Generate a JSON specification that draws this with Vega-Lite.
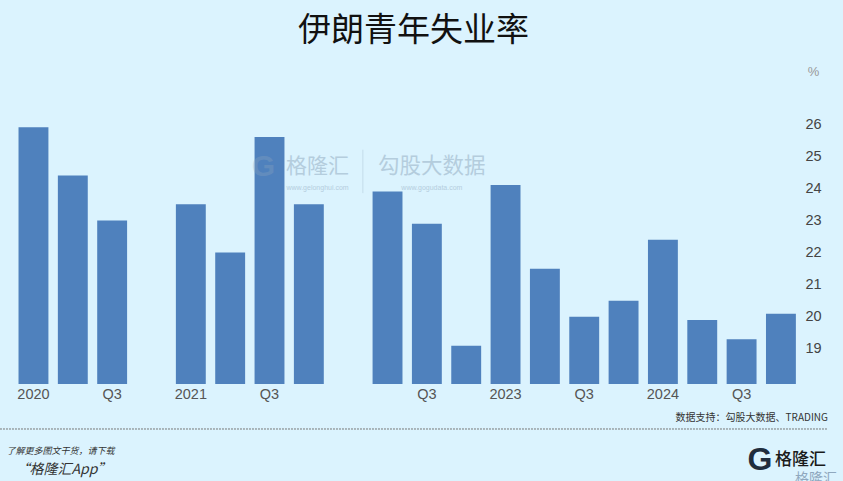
{
  "$schema": "https://vega.github.io/schema/vega-lite/v6.json",
  "width": 843,
  "height": 384,
  "autosize": "none",
  "padding": {"left": 0, "top": 0, "right": 0, "bottom": 97},
  "background": "#DBF3FE",
  "title": {
    "text": "伊朗青年失业率",
    "font": "Noto Sans CJK SC",
    "fontSize": 33,
    "fontWeight": 400,
    "color": "#111111",
    "anchor": "middle",
    "frame": "group",
    "baseline": "alphabetic",
    "offset": -74,
    "dx": -8
  },
  "config": {"view": {"stroke": null}},
  "data": {
    "values": [
      {"quarter": "2020Q1", "rate": 25.9},
      {"quarter": "2020Q2", "rate": 24.4},
      {"quarter": "2020Q3", "rate": 23.0},
      {"quarter": "2021Q1", "rate": 23.5},
      {"quarter": "2021Q2", "rate": 22.0},
      {"quarter": "2021Q3", "rate": 25.6},
      {"quarter": "2021Q4", "rate": 23.5},
      {"quarter": "2022Q2", "rate": 23.9},
      {"quarter": "2022Q3", "rate": 22.9},
      {"quarter": "2022Q4", "rate": 19.1},
      {"quarter": "2023Q1", "rate": 24.1},
      {"quarter": "2023Q2", "rate": 21.5},
      {"quarter": "2023Q3", "rate": 20.0},
      {"quarter": "2023Q4", "rate": 20.5},
      {"quarter": "2024Q1", "rate": 22.4},
      {"quarter": "2024Q2", "rate": 19.9},
      {"quarter": "2024Q3", "rate": 19.3},
      {"quarter": "2024Q4", "rate": 20.1}
    ]
  },
  "encoding": {
    "x": {
      "field": "quarter",
      "type": "ordinal",
      "sort": null,
      "scale": {
        "domain": ["2020Q1", "2020Q2", "2020Q3", "2020Q4", "2021Q1", "2021Q2", "2021Q3", "2021Q4", "2022Q1", "2022Q2", "2022Q3", "2022Q4", "2023Q1", "2023Q2", "2023Q3", "2023Q4", "2024Q1", "2024Q2", "2024Q3", "2024Q4"],
        "range": [13.8, 800.6],
        "paddingInner": 0.24,
        "paddingOuter": 0.12
      },
      "axis": {
        "title": null,
        "values": ["2020Q1", "2020Q3", "2021Q1", "2021Q3", "2022Q3", "2023Q1", "2023Q3", "2024Q1", "2024Q3"],
        "labelExpr": "slice(datum.value, 4) === 'Q1' ? slice(datum.value, 0, 4) : 'Q3'",
        "labelAngle": 0,
        "labelFont": "Liberation Sans",
        "labelFontSize": 14.5,
        "labelColor": "#555555",
        "labelPadding": 3,
        "domain": false,
        "ticks": false,
        "grid": false
      }
    },
    "y": {
      "field": "rate",
      "type": "quantitative",
      "scale": {"domain": [17.91, 29.86], "zero": false, "nice": false},
      "axis": {
        "orient": "right",
        "values": [19, 20, 21, 22, 23, 24, 25, 26],
        "title": "%",
        "titleAngle": 0,
        "titleX": -30,
        "titleY": 78,
        "titleFont": "Liberation Sans",
        "titleFontSize": 13,
        "titleFontWeight": "normal",
        "titleColor": "#999999",
        "labelFont": "Liberation Sans",
        "labelFontSize": 14.5,
        "labelColor": "#444444",
        "labelAlign": "center",
        "labelPadding": -30,
        "domain": false,
        "ticks": false,
        "grid": false
      }
    }
  },
  "layer": [
    {
      "mark": {"type": "bar", "color": "#4F81BD"},
      "encoding": {"y2": {"datum": 17.91}}
    },
    {
      "transform": [{"filter": "datum.quarter === '2020Q1'"}],
      "mark": {"type": "text", "text": "G", "font": "Liberation Sans", "fontSize": 30, "fontWeight": "bold", "color": "#8FA8BE", "opacity": 0.3, "align": "center", "baseline": "middle", "dx": -6},
      "encoding": {"x": {"datum": "2021Q3"}, "y": {"datum": 24.65}}
    },
    {
      "transform": [{"filter": "datum.quarter === '2020Q1'"}],
      "mark": {"type": "text", "text": "格隆汇", "font": "Noto Sans CJK SC", "fontSize": 21, "color": "#8FA8BE", "opacity": 0.5, "align": "center", "baseline": "middle", "dx": 48},
      "encoding": {"x": {"datum": "2021Q3"}, "y": {"datum": 24.65}}
    },
    {
      "transform": [{"filter": "datum.quarter === '2020Q1'"}],
      "mark": {"type": "text", "text": "www.gelonghui.com", "font": "Liberation Sans", "fontSize": 7, "color": "#8FA8BE", "opacity": 0.5, "align": "center", "baseline": "middle", "dx": 48},
      "encoding": {"x": {"datum": "2021Q3"}, "y": {"datum": 24.02}}
    },
    {
      "transform": [{"filter": "datum.quarter === '2020Q1'"}],
      "mark": {"type": "rule", "color": "#8FA8BE", "opacity": 0.3, "strokeWidth": 1, "xOffset": 54},
      "encoding": {"x": {"datum": "2021Q4"}, "y": {"datum": 25.2}, "y2": {"datum": 23.85}}
    },
    {
      "transform": [{"filter": "datum.quarter === '2020Q1'"}],
      "mark": {"type": "text", "text": "勾股大数据", "font": "Noto Sans CJK SC", "fontSize": 21.5, "color": "#8FA8BE", "opacity": 0.5, "align": "center", "baseline": "middle", "dx": 5},
      "encoding": {"x": {"datum": "2022Q3"}, "y": {"datum": 24.65}}
    },
    {
      "transform": [{"filter": "datum.quarter === '2020Q1'"}],
      "mark": {"type": "text", "text": "www.gogudata.com", "font": "Liberation Sans", "fontSize": 7, "letterSpacing": 2, "color": "#8FA8BE", "opacity": 0.5, "align": "center", "baseline": "middle", "dx": 5},
      "encoding": {"x": {"datum": "2022Q3"}, "y": {"datum": 24.02}}
    },
    {
      "transform": [{"filter": "datum.quarter === '2020Q1'"}],
      "mark": {"type": "text", "text": "数据支持：勾股大数据、TRADING", "font": "Noto Sans CJK SC", "fontSize": 10, "color": "#333333", "align": "right", "baseline": "middle", "dx": 47},
      "encoding": {"x": {"datum": "2024Q4"}, "y": {"datum": 16.85}}
    },
    {
      "transform": [{"filter": "datum.quarter === '2020Q1'"}],
      "mark": {"type": "rule", "color": "#777777", "strokeWidth": 1, "strokeDash": [2, 1], "xOffset": -33.5, "x2Offset": 47},
      "encoding": {"x": {"datum": "2020Q1"}, "x2": {"datum": "2024Q4"}, "y": {"datum": 16.51}}
    },
    {
      "transform": [{"filter": "datum.quarter === '2020Q1'"}],
      "mark": {"type": "text", "text": "了解更多图文干货，请下载", "font": "Noto Sans CJK SC", "fontSize": 9, "fontStyle": "italic", "color": "#333333", "align": "left", "baseline": "middle", "dx": -27},
      "encoding": {"x": {"datum": "2020Q1"}, "y": {"datum": 15.83}}
    },
    {
      "transform": [{"filter": "datum.quarter === '2020Q1'"}],
      "mark": {"type": "text", "text": "“格隆汇App”", "font": "Noto Sans CJK SC", "fontSize": 14, "fontStyle": "italic", "color": "#333333", "align": "left", "baseline": "middle", "dx": -18},
      "encoding": {"x": {"datum": "2020Q1"}, "y": {"datum": 15.23}}
    },
    {
      "transform": [{"filter": "datum.quarter === '2020Q1'"}],
      "mark": {"type": "text", "text": "G", "font": "Liberation Sans", "fontSize": 32, "fontWeight": "bold", "color": "#1F2D3D", "align": "center", "baseline": "middle", "dx": -21},
      "encoding": {"x": {"datum": "2024Q4"}, "y": {"datum": 15.55}}
    },
    {
      "transform": [{"filter": "datum.quarter === '2020Q1'"}],
      "mark": {"type": "text", "text": "格隆汇", "font": "Noto Sans CJK SC", "fontSize": 17, "fontWeight": 500, "color": "#1A1A1A", "align": "left", "baseline": "middle", "dx": -6},
      "encoding": {"x": {"datum": "2024Q4"}, "y": {"datum": 15.55}}
    },
    {
      "transform": [{"filter": "datum.quarter === '2020Q1'"}],
      "mark": {"type": "text", "text": "格隆汇", "font": "Noto Sans CJK SC", "fontSize": 14, "color": "#8FA8BE", "align": "left", "baseline": "middle", "dx": 14},
      "encoding": {"x": {"datum": "2024Q4"}, "y": {"datum": 14.95}}
    }
  ]
}
